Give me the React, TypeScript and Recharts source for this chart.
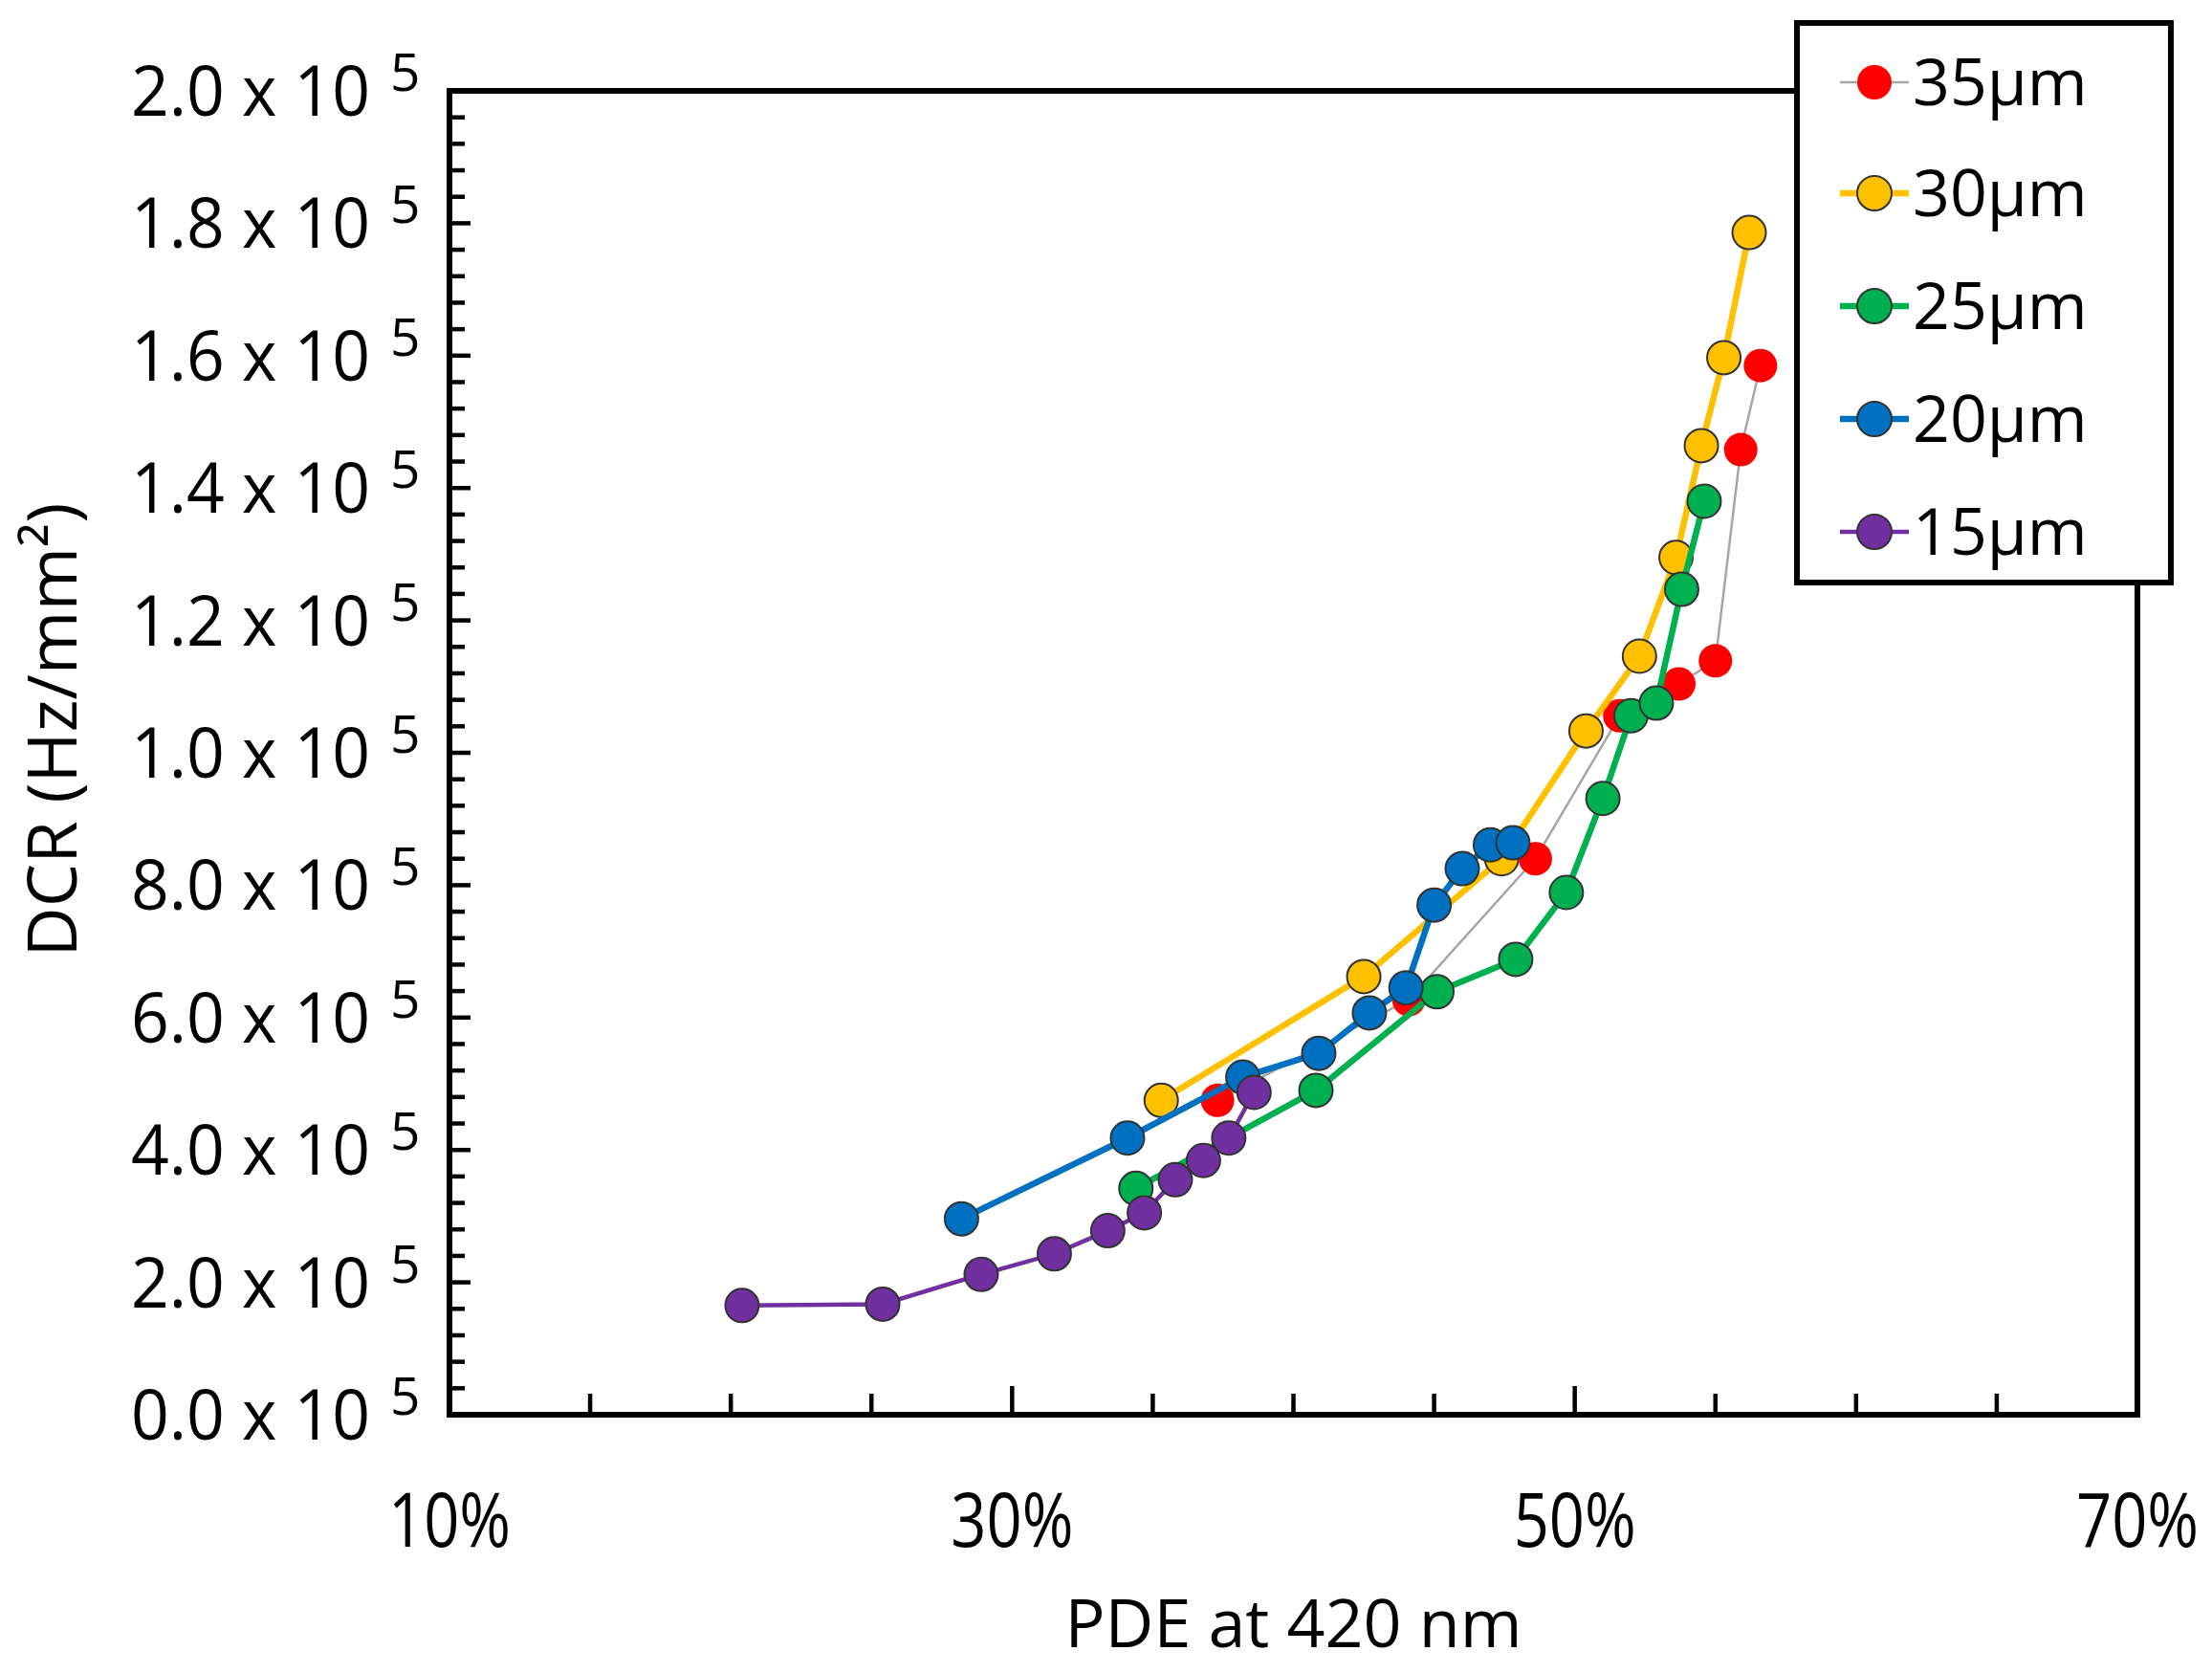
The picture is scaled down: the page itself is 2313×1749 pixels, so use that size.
import React from "react";
import { ScatterChart, Scatter, XAxis, YAxis, ReferenceArea, Label } from "recharts";

// PDE (%) and DCR (Hz/mm²), one pair of arrays per cell pitch
const pde35 = [37.3, 44.1, 48.6, 51.6, 53.7, 55.0, 55.9, 56.6];
const dcr35 = [47500, 62700, 84000, 105600, 110400, 113900, 145800, 158500];

const pde30 = [35.3, 42.5, 47.4, 50.4, 52.3, 53.6, 54.5, 55.3, 56.2];
const dcr30 = [47500, 66200, 84000, 103300, 114600, 129500, 146400, 159700, 178600];

const pde25 = [34.4, 40.8, 45.1, 47.9, 49.7, 51.0, 52.0, 52.9, 53.8, 54.6];
const dcr25 = [34200, 49000, 63900, 68800, 78900, 93100, 105600, 107500, 124700, 138000];

const pde20 = [28.2, 34.1, 38.2, 40.9, 42.7, 44.0, 45.0, 46.0, 47.0, 47.8];
const dcr20 = [29600, 41800, 51000, 54600, 60700, 64500, 77000, 82500, 86100, 86400];

const pde15 = [20.4, 25.4, 28.9, 31.5, 33.4, 34.7, 35.8, 36.8, 37.7, 38.6];
const dcr15 = [16500, 16700, 21200, 24300, 27800, 30500, 35500, 38400, 41800, 48700];

const xLabels = [10, 30, 50, 70];
const xTicks = [10, 15, 20, 25, 30, 35, 40, 45, 50, 55, 60, 65, 70];
// the figure prints these mantissas as-is
const yLabelValues = [0, 20000, 40000, 60000, 80000, 100000, 120000, 140000, 160000, 180000, 200000];
const yLabelText = ["0.0", "2.0", "4.0", "6.0", "8.0", "1.0", "1.2", "1.4", "1.6", "1.8", "2.0"];
const yTicks = Array.from({ length: 51 }, (_, i) => i * 4000);

const FONT = "'Open Sans', 'Noto Sans', sans-serif";

const zip = (xs: number[], ys: number[]) => xs.map((x, i) => ({ x, y: ys[i] }));

const series = [
  { name: "35\u00B5m", data: zip(pde35, dcr35), line: "#A6A6A6", width: 2.5, fill: "#FF0000", outline: "none" },
  { name: "30\u00B5m", data: zip(pde30, dcr30), line: "#FFC000", width: 6.5, fill: "#FFC000", outline: "#333" },
  { name: "25\u00B5m", data: zip(pde25, dcr25), line: "#00B050", width: 6.5, fill: "#00B050", outline: "#333" },
  { name: "20\u00B5m", data: zip(pde20, dcr20), line: "#0070C0", width: 6.5, fill: "#0070C0", outline: "#333" },
  { name: "15\u00B5m", data: zip(pde15, dcr15), line: "#7030A0", width: 4.5, fill: "#7030A0", outline: "#333" },
];

function XTick(props: any) {
  const { x, y, payload } = props;
  const major = xLabels.includes(payload.value);
  return (
    <g>
      <line x1={x} x2={x} y1={y} y2={y - (major ? 30 : 22)} stroke="#000" strokeWidth={4.5} />
      {major && (
        <text x={x} y={y + 138} textAnchor="middle" fontSize={78} fontFamily={FONT} fill="#000"
          textLength={128} lengthAdjust="spacingAndGlyphs">
          {payload.value}%
        </text>
      )}
    </g>
  );
}

function YTick(props: any) {
  const { x, y, payload } = props;
  const idx = yLabelValues.indexOf(payload.value);
  const major = idx >= 0;
  return (
    <g>
      <line x1={x} x2={x + (major ? 22 : 16)} y1={y} y2={y} stroke="#000" strokeWidth={4.5} />
      {major && (
        <>
          <text x={x - 333} y={y + 26} fontSize={74} fontFamily={FONT} fill="#000"
            textLength={250} lengthAdjust="spacingAndGlyphs">
            {yLabelText[idx]} x 10
          </text>
          <text x={x - 62} y={y} fontSize={55} fontFamily={FONT} fill="#000">5</text>
        </>
      )}
    </g>
  );
}

function LegendBox() {
  const rows = [65, 181, 299, 417, 535];
  return (
    <svg width={397} height={591} style={{ position: "absolute", left: 1876, top: 21 }}>
      <rect x={3} y={3} width={391} height={585} fill="#fff" stroke="#000" strokeWidth={6} />
      {series.map((s, i) => (
        <g key={s.name}>
          <line x1={48} x2={120} y1={rows[i]} y2={rows[i]} stroke={s.line} strokeWidth={s.width} />
          <circle cx={84} cy={rows[i]} r={18} fill={s.fill} stroke={s.outline} strokeWidth={2} />
          <text x={124} y={rows[i] + 24} fontSize={68} fontFamily={FONT} fill="#000">{s.name}</text>
        </g>
      ))}
    </svg>
  );
}

export default function App() {
  return (
    <div style={{ position: "absolute", left: 0, top: 0, width: 2313, height: 1749, background: "#fff" }}>
      <ScatterChart width={2313} height={1749} margin={{ top: 95, right: 78, bottom: 240, left: 410 }}>
        <XAxis type="number" dataKey="x" domain={[10, 70]} ticks={xTicks} interval={0} height={30}
          tick={<XTick />} tickLine={false} axisLine={false} tickSize={0} tickMargin={0} allowDataOverflow>
          <Label content={(p: any) => (
            <text x={p.viewBox.x + p.viewBox.width / 2} y={p.viewBox.y + 243} textAnchor="middle"
              fontSize={70} fontFamily={FONT} fill="#000">PDE at 420 nm</text>
          )} />
        </XAxis>
        <YAxis type="number" dataKey="y" domain={[0, 200000]} ticks={yTicks} interval={0} width={60}
          tick={<YTick />} tickLine={false} axisLine={false} tickSize={0} tickMargin={0} allowDataOverflow>
          <Label content={(p: any) => {
            const cx = p.viewBox.x + p.viewBox.width - 418;
            const cy = p.viewBox.y + p.viewBox.height / 2 - 24;
            return (
              <text x={cx} y={cy} transform={`rotate(-90, ${cx}, ${cy})`} textAnchor="middle"
                dominantBaseline="central" fontSize={72} fontFamily={FONT} fill="#000">
                DCR (Hz/mm²)
              </text>
            );
          }} />
        </YAxis>
        <ReferenceArea x1={10} x2={70} y1={0} y2={200000} fill="none" stroke="#000" strokeWidth={6}
          ifOverflow="visible" />
        {series.map((s) => (
          <Scatter key={s.name} name={s.name} data={s.data} isAnimationActive={false}
            line={{ stroke: s.line, strokeWidth: s.width }} lineType="joint"
            shape={(p: any) => (
              <circle cx={p.cx} cy={p.cy} r={17.5} fill={s.fill} stroke={s.outline} strokeWidth={2} />
            )} />
        ))}
      </ScatterChart>
      <LegendBox />
    </div>
  );
}
